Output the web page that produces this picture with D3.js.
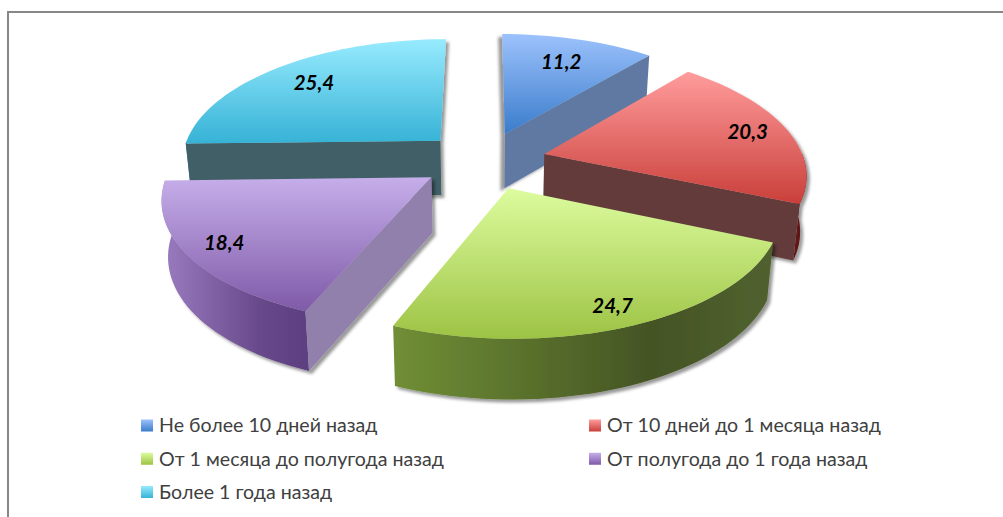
<!DOCTYPE html>
<html>
<head>
<meta charset="utf-8">
<script src="https://cdnjs.cloudflare.com/ajax/libs/d3/7.8.5/d3.min.js"></script>
<style>
  html, body { margin: 0; padding: 0; background: #fff; overflow: hidden; }
  text { font-family: Lato, "Noto Sans", sans-serif; }
</style>
</head>
<body>
<svg id="chart" width="1003" height="517"></svg>
<script>
// Data
const categories = [
    'Не более 10 дней назад',
    'От 10 дней до 1 месяца назад',
    'От 1 месяца до полугода назад',
    'От полугода до 1 года назад',
    'Более 1 года назад'
];
const values = [11.2, 20.3, 24.7, 18.4, 25.4];
const valueLabels = ['11,2', '20,3', '24,7', '18,4', '25,4'];

// Colours per slice: top of the gradient, bottom of the gradient, cut face, wall stops
const topLight = ['#9cc2fc', '#ff9c9c', '#dcfc9e', '#c6aeea', '#97ebfe'];
const topDark = ['#3a7ccb', '#c93f3a', '#9dc344', '#7f5aa8', '#36b2d6'];
const cutColor = ['#6079a3', '#643a3a', '#5f7a2e', '#9180ab', '#3f5f66'];
const wallLeft = ['#4a6a9a', '#5e1414', '#708f35', '#9a7cc0', '#2f7f95'];
const wallMid = ['#4a6a9a', '#5e1414', '#445424', '#67488a', '#2f7f95'];
const wallRight = ['#3a5a8a', '#5e1414', '#51622f', '#5c3f80', '#2f7f95'];

// Layout of the pseudo 3D pie
const cx = 484, cy = 160.5, radius = 260;
const tilt = 0.465, perspX = 0.15, perspY = 0.14, explode = 0.24, depth = 55;
const labelFrac = [0.74, 0.84, 0.87, 0.86, 0.77];
const drawOrder = [4, 0, 1, 3, 2];

const svg = d3.select('#chart');
const defs = svg.append('defs');

// Frame of the chart area
svg.append('path')
    .attr('d', 'M8,517V12H1003')
    .attr('fill', 'none')
    .attr('stroke', '#878787')
    .attr('stroke-width', 2);

const pie = d3.pie().sort(null).value(d => d);
const arcs = pie(values);

// Perspective: world x/z on the unit disc to the screen
const project = (wx, wz, lift) => {
    const sx = 1 / (1 - perspX * wz);
    const sy = 1 / (1 - perspY * wz);
    const drop = lift ? 0.98 : 1;
    return [
        cx + radius * wx * sx * drop,
        cy + radius * tilt * wz * sy + (lift ? depth * (1 + (sy - 1) / 2) : 0)
    ];
};

const line = d3.line();
const step = Math.PI / 90;

const rimAngles = (a0, a1) => {
    const list = d3.range(a0, a1, step);
    list.push(a1);
    return list;
};

// Soft shadow; blue falls to the left, the others to the right
const shadow = (i) => {
    const f = defs.append('filter')
        .attr('id', `shadow${i}`)
        .attr('x', '-10%').attr('y', '-10%')
        .attr('width', '120%').attr('height', '125%');
    f.append('feDropShadow')
        .attr('dx', i === 0 ? -4 : 3)
        .attr('dy', 3)
        .attr('stdDeviation', 1.8)
        .attr('flood-color', '#000')
        .attr('flood-opacity', 0.4);
};

const vertical = (id, c0, c1) => {
    const g = defs.append('linearGradient').attr('id', id)
        .attr('x1', 0).attr('y1', 0).attr('x2', 0).attr('y2', 1);
    g.append('stop').attr('offset', 0).attr('stop-color', c0);
    g.append('stop').attr('offset', 1).attr('stop-color', c1);
};

const horizontal = (id, c0, c1, c2) => {
    const g = defs.append('linearGradient').attr('id', id)
        .attr('x1', 0).attr('y1', 0).attr('x2', 1).attr('y2', 0);
    g.append('stop').attr('offset', 0).attr('stop-color', c0);
    g.append('stop').attr('offset', 0.68).attr('stop-color', c1);
    g.append('stop').attr('offset', 1).attr('stop-color', c2);
};

arcs.forEach((d, i) => {
    shadow(i);
    vertical(`top${i}`, topLight[i], topDark[i]);
    horizontal(`wall${i}`, wallLeft[i], wallMid[i], wallRight[i]);
});

drawOrder.forEach(i => {
    const d = arcs[i];
    const mid = (d.startAngle + d.endAngle) / 2;
    const ox = explode * Math.sin(mid), oz = -explode * Math.cos(mid);
    const rim = (a, lift) => project(ox + Math.sin(a), oz - Math.cos(a), lift);
    const apex = lift => project(ox, oz, lift);
    const g = svg.append('g').attr('filter', `url(#shadow${i})`);

    // Outer wall: only the part of the rim that faces the viewer
    const w0 = Math.max(d.startAngle, Math.PI / 2), w1 = Math.min(d.endAngle, Math.PI * 1.5);
    if (w1 > w0) {
        const angles = rimAngles(w0, w1);
        const pts = angles.map(a => rim(a, false))
            .concat(angles.slice().reverse().map(a => rim(a, true)));
        g.append('path').attr('d', line(pts) + 'Z').attr('fill', `url(#wall${i})`);
    }

    // Cut faces that turn towards the viewer
    const cut = a => {
        const pts = [apex(false), rim(a, false), rim(a, true), apex(true)];
        g.append('path').attr('d', line(pts) + 'Z').attr('fill', cutColor[i]);
    };
    if (Math.sin(d.endAngle) > 0.01) cut(d.endAngle);
    if (Math.sin(d.startAngle) < -0.01) cut(d.startAngle);

    // Top surface
    const topPts = [apex(false)].concat(rimAngles(d.startAngle, d.endAngle).map(a => rim(a, false)));
    g.append('path').attr('d', line(topPts) + 'Z').attr('fill', `url(#top${i})`);
});

// Value labels
arcs.forEach((d, i) => {
    const mid = (d.startAngle + d.endAngle) / 2;
    const f = explode + labelFrac[i];
    const p = project(f * Math.sin(mid), -f * Math.cos(mid), false);
    svg.append('text')
        .attr('x', p[0]).attr('y', p[1])
        .attr('dy', '0.35em')
        .attr('text-anchor', 'middle')
        .attr('font-size', 20.5)
        .attr('font-weight', 'bold')
        .attr('font-style', 'italic')
        .attr('fill', '#000')
        .text(valueLabels[i]);
});

// Legend, two columns filled row by row
const legendX = d3.scaleOrdinal().domain([0, 1]).range([141, 589]);
const legendY = d3.scalePoint().domain([0, 1, 2]).range([425.5, 492]);

categories.forEach((name, i) => {
    const col = i % 2, row = Math.floor(i / 2);
    const lg = svg.append('g')
        .attr('transform', `translate(${legendX(col)},${legendY(row)})`);
    lg.append('rect')
        .attr('x', 0).attr('y', -6)
        .attr('width', 12).attr('height', 12)
        .attr('fill', `url(#top${i})`);
    lg.append('text')
        .attr('x', 18).attr('dy', '0.35em')
        .attr('font-size', 19.6)
        .attr('fill', '#404040')
        .text(name);
});
</script>
</body>
</html>
